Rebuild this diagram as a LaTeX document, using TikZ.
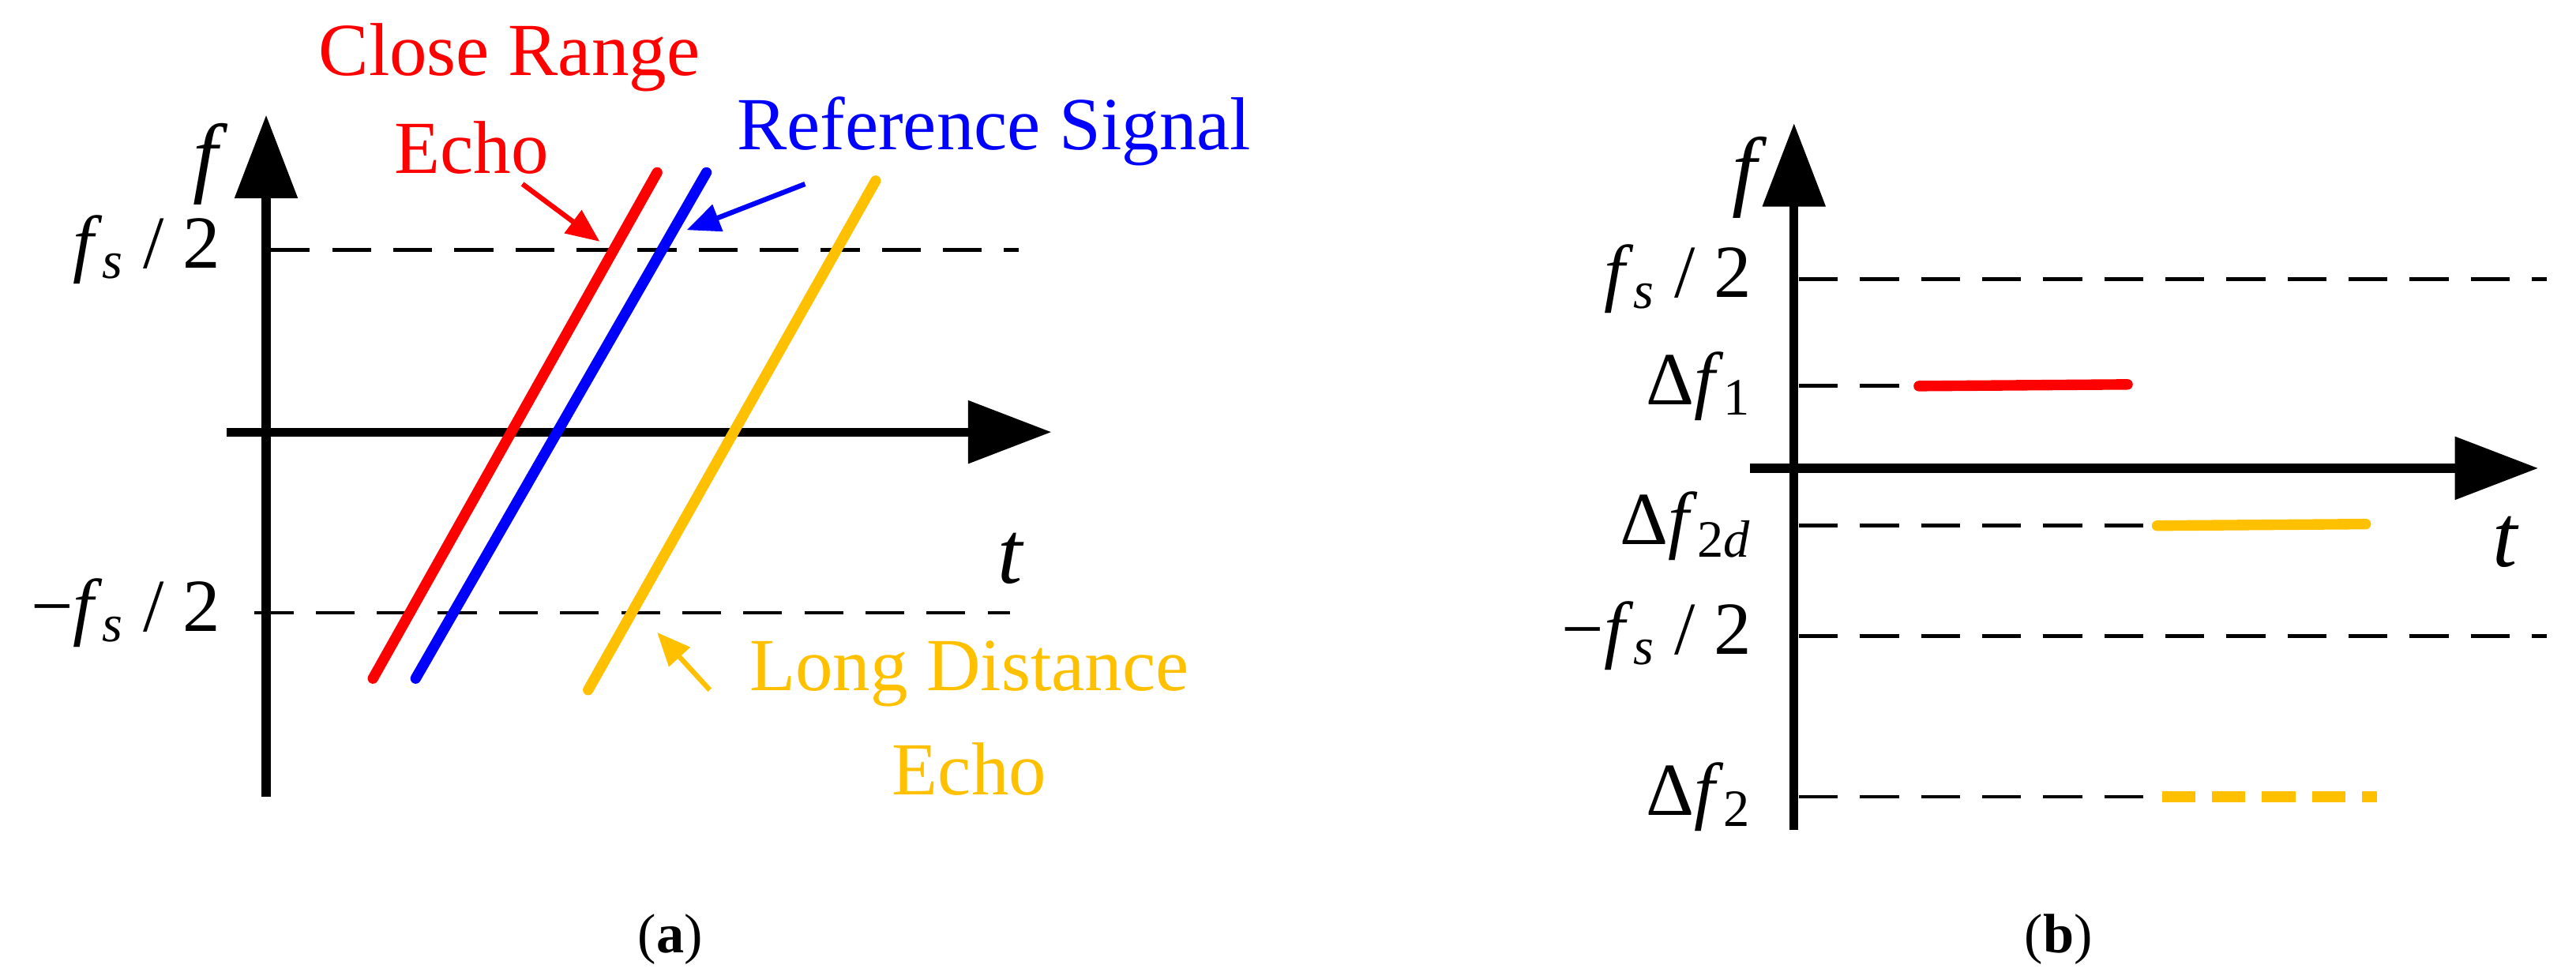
\documentclass[tikz,border=0pt]{standalone}
\usepackage{fontspec}
\setmainfont{Liberation Serif}
\usetikzlibrary{arrows.meta}
\definecolor{myyel}{HTML}{FFC000}
\newcommand{\fsub}[1]{\textit{f}\textsubscript{#1}}
\begin{document}
\begin{tikzpicture}[x=0.0208cm,y=-0.0208cm,
 axis/.style={line width=3.2pt,-{Triangle[length=30pt,width=22pt]}},
 dsh/.style={line width=1.4pt,dash pattern=on 14pt off 8pt},
 sig/.style={line width=3.8pt,line cap=round},
 lab/.style={font=\fontsize{27}{30}\selectfont},
 ptr/.style={line width=1.8pt,-{Triangle[length=12pt,width=10pt]}}]
\useasboundingbox (0,0) rectangle (1568,594);
% panel a
\draw[dsh] (165,152) -- (620,152);
\draw[dsh] (155,373) -- (615,373);
\draw[axis] (162,485) -- (162,70);
\draw[axis] (138,263) -- (640,263);
\node[lab,font=\fontsize{32}{34}\selectfont] (fa) at (125,100) {\itshape f};
\node[lab,anchor=east] (fsa) at (140,152) {\fsub{\textit{s}} / 2};
\node[lab,anchor=east] (mfsa) at (140,373) {\textminus\fsub{\textit{s}} / 2};
\node[lab,font=\fontsize{32}{34}\selectfont] (ta) at (615,340) {\itshape t};
\draw[sig,red] (227,413) -- (400,105);
\draw[sig,blue] (253,413) -- (430,105);
\draw[sig,myyel] (358,420) -- (533,110);
\node[lab,red] (cr) at (310,35) {Close Range};
\node[lab,red] (cre) at (287,90) {Echo};
\node[lab,blue] (rs) at (605,80) {Reference Signal};
\node[lab,myyel] (ld) at (590,410) {Long Distance};
\node[lab,myyel] (lde) at (590,468) {Echo};
\coordinate (r1) at (318,112); \coordinate (r2) at (365,147);
\coordinate (b1) at (490,112); \coordinate (b2) at (418,140);
\coordinate (y1) at (432,420); \coordinate (y2) at (400,385);
\draw[ptr,red] (r1) -- (r2);
\draw[ptr,blue] (b1) -- (b2);
\draw[ptr,myyel] (y1) -- (y2);
\node[font=\fontsize{20}{24}\selectfont] (capa) at (408,572) {(\textbf{a})};
% panel b
\draw[dsh] (1095,170) -- (1550,170);
\draw[dsh] (1095,235) -- (1165,235);
\draw[dsh] (1095,320) -- (1310,320);
\draw[dsh] (1095,387) -- (1550,387);
\draw[dsh] (1095,485) -- (1315,485);
\draw[axis] (1092,505) -- (1092,75);
\draw[axis] (1065,285) -- (1545,285);
\draw[sig,red] (1168,235) -- (1295,234);
\draw[sig,myyel] (1313,320) -- (1440,319);
\draw[line width=3.8pt,myyel,dash pattern=on 12pt off 6pt] (1316,485) -- (1447,485);
\node[lab,font=\fontsize{32}{34}\selectfont] (fb) at (1062,108) {\itshape f};
\node[lab,anchor=east] (fsb) at (1072,170) {\fsub{\textit{s}} / 2};
\node[lab,anchor=east] (d1) at (1072,235) {Δ\fsub{1}};
\node[lab,anchor=east] (d2d) at (1072,320) {Δ\fsub{2\textit{d}}};
\node[lab,anchor=east] (mfsb) at (1072,387) {\textminus\fsub{\textit{s}} / 2};
\node[lab,anchor=east] (d2) at (1072,485) {Δ\fsub{2}};
\node[lab,font=\fontsize{32}{34}\selectfont] (tb) at (1525,330) {\itshape t};
\node[font=\fontsize{20}{24}\selectfont] (capb) at (1253,572) {(\textbf{b})};
\end{tikzpicture}
\end{document}
